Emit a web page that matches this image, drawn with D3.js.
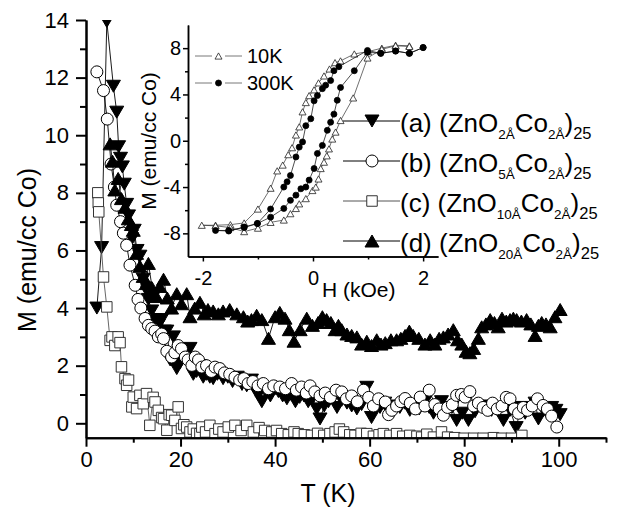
<!DOCTYPE html>
<html><head><meta charset="utf-8">
<script src="https://cdn.jsdelivr.net/npm/d3@7"></script>
<style>
body{margin:0;background:#fff;}
svg text{font-family:"Liberation Sans",Arial,Helvetica,sans-serif;fill:#000;}
</style></head><body>
<svg id="chart" width="618" height="510"></svg>
<script>
// ---- main panel: M(T) for four multilayers ----
const tA = [2.3,3.3,4.4,5.8,6.5,6.9,7.3,7.7,8.1,8.6,9.0,9.7,10.2,10.8,11.4,12.1,12.5,13.2,13.9,14.6,15.3,16.0,16.6,17.1,17.8,18.5,19.2,19.9,20.6,21.3,22.0,22.7,23.4,24.1,24.8,25.5,26.2,26.9,27.8,29.0,30.0,31.0,32.0,33.0,34.0,35.0,35.8,36.5,37.2,38.0,39.0,40.0,40.7,41.6,42.5,43.4,44.3,45.2,46.1,47.0,47.9,48.8,49.5,50.4,51.3,52.2,53.1,54.1,55.2,56.2,57.3,58.3,59.4,60.4,61.3,62.2,63.2,64.3,65.3,66.4,67.4,68.5,69.4,70.5,71.7,72.6,73.5,74.4,75.2,76.3,77.4,78.4,79.6,80.9,82.3,83.7,84.7,85.8,87.1,88.3,89.7,91.0,92.0,92.9,94.0,95.0,95.7,96.8,97.6,98.5,99.4,100.3];
const mA = [4.0,6.1,13.95,11.7,10.8,9.6,9.2,8.9,8.3,7.6,7.2,6.4,6.7,6.0,5.8,5.0,4.7,4.3,3.9,3.6,3.4,3.6,3.2,3.2,2.2,3.0,1.9,2.1,2.5,2.2,2.6,1.7,1.8,2.0,1.6,1.7,1.6,1.55,1.7,1.55,1.6,1.45,1.6,1.35,1.3,1.5,1.15,1.0,0.75,1.1,0.95,1.2,1.1,0.95,0.85,1.0,0.75,0.9,0.95,0.75,0.85,0.5,0.15,0.6,0.75,0.85,0.55,0.8,0.7,0.6,0.5,0.65,1.25,0.2,0.55,0.55,0.7,0.35,0.6,0.55,0.7,0.45,0.6,0.5,0.75,0.55,0.35,0.6,0.75,0.45,0.55,0.1,0.35,0.1,0.4,0.6,0.55,0.45,0.55,0.1,0.45,-0.15,0.55,0.35,0.5,0.7,0.15,0.45,0.35,0.55,0.45,0.3];

const tB = [2.3,3.7,4.5,5.3,6.0,6.5,7.3,7.9,8.6,9.3,10.4,11.0,11.6,12.5,13.2,13.9,14.6,15.3,16.0,16.4,17.1,18.1,18.8,19.5,20.2,21.0,21.6,22.4,23.1,23.8,24.5,25.5,26.5,27.3,28.3,29.3,30.4,31.5,32.5,33.4,34.3,35.3,36.4,37.5,38.6,39.7,41.0,42.2,43.5,44.5,45.6,46.6,47.4,48.4,49.5,50.6,51.7,52.9,54.1,55.1,56.2,57.4,58.7,59.8,60.8,61.9,63.3,64.0,64.7,65.7,66.6,67.5,68.6,69.7,70.7,71.7,72.6,73.8,74.7,75.6,76.5,77.5,78.4,79.4,80.2,81.2,82.0,83.0,84.0,85.0,86.0,87.0,88.0,88.9,89.7,90.6,91.5,92.5,93.4,94.4,95.5,96.7,97.6,98.5,99.6];
const mB = [12.2,11.55,10.56,9.0,8.2,7.57,7.0,6.6,6.18,5.49,4.79,4.3,4.0,3.64,3.4,3.29,3.2,3.0,3.1,2.94,2.5,2.3,2.45,2.7,2.59,2.3,2.2,2.01,2.3,2.2,1.95,2.0,1.8,1.95,1.9,1.75,1.7,1.6,1.5,1.55,1.38,1.45,1.3,1.38,1.2,1.3,1.26,1.2,1.38,1.15,1.26,1.05,1.3,1.09,0.95,1.05,0.9,1.15,1.09,0.85,0.95,0.75,1.15,0.9,0.6,0.85,0.74,0.3,0.45,0.6,0.75,0.86,0.7,0.5,0.91,0.6,1.15,0.65,0.5,0.28,0.55,0.65,0.97,1.0,0.91,1.1,0.6,0.7,0.55,0.45,0.7,0.5,0.6,0.9,0.85,0.5,0.35,0.55,0.45,0.6,0.85,0.62,0.5,0.25,-0.13];

const tC = [2.5,2.6,2.7,3.7,4.4,5.1,5.5,6.1,6.8,7.2,7.5,8.25,8.6,9.0,9.7,10.0,10.7,11.4,12.1,12.8,13.5,14.2,14.6,15.3,16.0,16.4,17.1,17.6,18.1,18.8,19.5,20.2,20.7,21.3,22.0,22.7,23.4,24.1,24.5,25.3,26.2,27.3,28.1,29.0,30.1,31.5,32.8,34.0,35.4,36.6,37.8,39.3,40.3,41.4,42.8,44.0,44.9,46.2,47.7,49.0,50.3,51.6,52.7,53.6,54.5,55.8,56.9,58.2,59.4,60.8,62.0,62.9,64.3,65.7,67.0,68.5,70.0,71.0,72.1,73.5,75.2,76.5,78.0,80.0,82.0,84.0,86.2,88.0,90.0,92.2];
const mC = [8.0,7.65,7.34,5.08,4.04,2.88,3.0,2.7,3.0,2.8,1.96,1.55,1.32,1.5,0.57,0.91,0.51,0.97,0.68,1.03,-0.07,0.9,0.74,0.45,0.2,0.16,-0.24,0.3,0.28,0.1,0.57,-0.18,-0.05,-0.13,-0.3,-0.2,-0.35,-0.36,-0.13,-0.3,-0.07,-0.36,-0.2,-0.3,-0.13,-0.07,-0.25,-0.07,-0.3,-0.15,-0.25,-0.3,-0.25,-0.36,-0.4,-0.3,-0.36,-0.4,-0.42,-0.35,-0.42,-0.36,-0.3,-0.2,-0.3,-0.4,-0.42,-0.35,-0.36,-0.45,-0.4,-0.36,-0.42,-0.36,-0.45,-0.42,-0.45,-0.48,-0.38,-0.48,-0.3,-0.48,-0.5,-0.52,-0.52,-0.52,-0.5,-0.52,-0.52,-0.42];

const tD = [5.1,5.6,6.1,6.8,7.5,8.25,8.95,9.6,10.0,10.7,11.4,12.1,12.8,13.2,14.0,14.9,15.6,16.4,17.2,18.1,19.2,20.2,21.3,22.0,23.0,24.1,25.0,25.8,26.9,28.0,29.0,30.4,31.9,33.3,34.2,35.0,36.1,37.2,38.6,40.0,41.0,42.1,43.0,44.0,45.3,46.7,47.9,49.1,50.0,50.9,51.8,52.7,53.4,54.1,55.2,56.2,57.3,58.3,59.4,60.4,61.5,62.4,63.3,64.5,65.7,66.6,67.5,68.4,69.2,70.4,71.7,72.8,73.8,74.7,75.6,76.6,77.7,78.6,79.5,80.4,81.2,82.0,83.0,83.7,84.6,85.5,86.4,87.2,88.0,88.9,89.7,90.4,91.1,92.1,93.2,94.1,95.0,95.7,96.4,97.3,98.2,99.2,100.3];
const mD = [9.7,9.1,8.1,8.5,7.8,7.5,7.1,6.9,6.7,5.9,5.45,5.1,4.85,5.55,4.7,4.4,4.75,5.0,4.35,4.0,4.5,4.15,4.5,3.7,4.0,4.2,3.8,3.95,3.9,3.8,3.9,3.95,3.8,3.7,3.55,3.6,3.75,3.6,2.95,3.7,3.85,3.65,3.25,2.85,3.25,3.65,3.4,3.5,3.7,3.6,3.5,3.25,3.4,3.25,3.1,3.05,3.0,2.75,2.85,2.7,2.9,2.75,2.8,2.9,2.9,2.95,3.05,3.2,3.05,2.95,2.75,2.9,2.75,2.95,3.0,3.1,3.25,2.9,2.75,2.5,2.45,2.6,2.95,3.35,3.45,3.6,3.5,3.35,3.65,3.55,3.6,3.65,3.6,3.55,3.6,3.45,3.05,3.4,3.5,3.45,3.35,3.7,3.95];

const tTicks = [0,20,40,60,80,100];
const tMinor = [10,30,50,70,90,110];
const mTicks = [0,2,4,6,8,10,12,14];
const mMinor = [1,3,5,7,9,11,13];

const seriesLetters = ["a","b","c","d"];
const znoThickness = ["2Å","5Å","10Å","20Å"];

// ---- inset: M(H) loops ----
const fieldH10 = [1.75,1.5,1.25,1.0,0.75,0.5,0.4,0.3,0.2,0.1,0.02,-0.07,-0.13,-0.19,-0.25,-0.31,-0.38,-0.45,-0.55,-0.65,-0.77,-1.0,-1.25,-1.5,-1.77,-2.02,-1.77,-1.5,-1.25,-1.0,-0.77,-0.53,-0.41,-0.31,-0.25,-0.13,-0.01,0.05,0.1,0.14,0.2,0.25,0.29,0.35,0.41,0.5,0.73,0.99,1.25,1.5,1.75];
const momentM10 = [8.2,8.25,8.0,7.7,7.5,6.9,6.75,6.2,5.6,5.0,4.4,3.9,3.3,2.5,1.2,0.5,-0.6,-1.2,-2.1,-2.6,-4.1,-5.9,-7.1,-7.25,-7.3,-7.3,-7.35,-7.5,-7.85,-7.55,-7.05,-6.85,-6.3,-5.85,-5.45,-5.0,-4.3,-4.0,-3.3,-2.4,-1.85,-1.3,-0.7,0.15,0.75,1.75,3.7,7.15,7.9,8.2,8.15];
const fieldH300 = [2.0,1.75,1.5,1.23,0.99,0.47,0.38,0.32,0.23,0.17,0.08,0.02,-0.04,-0.13,-0.19,-0.25,-0.31,-0.41,-0.47,-0.53,-0.77,-1.01,-1.25,-1.53,-1.77,-1.53,-1.25,-1.01,-0.77,-0.53,-0.41,-0.31,-0.22,-0.13,-0.07,0.02,0.08,0.17,0.26,0.32,0.38,0.44,0.5,0.75,0.99,1.23,1.5,1.75,2.0];
const momentM300 = [8.05,7.55,7.75,7.55,7.8,6.4,6.05,5.2,4.8,4.5,3.9,3.45,1.9,1.3,-0.1,-0.55,-1.4,-3.0,-3.55,-4.0,-5.9,-7.15,-7.45,-7.8,-7.75,-7.75,-7.5,-7.15,-6.6,-5.85,-5.15,-4.7,-4.15,-4.0,-3.4,-2.4,-1.1,-0.4,0.9,1.6,2.3,3.5,4.6,6.05,7.65,7.55,7.75,7.55,8.05];
const hTicks = [-2,0,2];
const hMinor = [-1,1];
const imTicks = [-8,-4,0,4,8];
const imMinor = [-6,-2,2,6];
const insetNames = ["10K","300K"];

const svg = d3.select("#chart");
const plain = d => String(d);   // hyphen-minus, no decimals

// marker shapes
const triDown = (w,h) => `M${-w/2},${-h/2}L${w/2},${-h/2}L0,${h/2}Z`;
const triUp = (w,h) => `M${-w/2},${h/2}L${w/2},${h/2}L0,${-h/2}Z`;
const square = s => `M${-s/2},${-s/2}h${s}v${s}h${-s}Z`;
const circle = r => d3.arc()({innerRadius:0,outerRadius:r,startAngle:0,endAngle:2*Math.PI});

const styles = [
  {path: triDown(14,12), fill:"#000", stroke:"#000", line:"#000"},
  {path: circle(6), fill:"#fff", stroke:"#000", line:"#000"},
  {path: square(10.5), fill:"#fff", stroke:"#333", line:"#555"},
  {path: triUp(14,12), fill:"#000", stroke:"#000", line:"#000"}
];

// ---- main axes ----
const x = d3.scaleLinear().domain([0,110]).range([86,606]);
const y = d3.scaleLinear().domain([-0.5,14]).range([437.7,20]);

svg.append("clipPath").attr("id","plotClip")
  .append("rect").attr("x",86).attr("y",20).attr("width",520).attr("height",417.7);

const series = [[tA,mA],[tB,mB],[tC,mC],[tD,mD]];
const dataG = svg.append("g").attr("clip-path","url(#plotClip)");
const lineGen = d3.line().x(d=>x(d[0])).y(d=>y(d[1]));
series.forEach(([ts,ms],i)=>{
  const pts = ts.map((t,k)=>[t,ms[k]]);
  const g = dataG.append("g");
  g.append("path").attr("d",lineGen(pts)).attr("fill","none")
    .attr("stroke",styles[i].line).attr("stroke-width",0.9);
  g.selectAll("path.mk").data(pts).join("path").attr("class","mk")
    .attr("d",styles[i].path)
    .attr("transform",d=>`translate(${x(d[0])},${y(d[1])})`)
    .attr("fill",styles[i].fill).attr("stroke",styles[i].stroke).attr("stroke-width",1);
});

function styleAxis(g, fs, sw){
  g.attr("font-family",null).attr("font-size",null);
  g.select(".domain").attr("stroke","#000").attr("stroke-width",sw);
  g.selectAll(".tick line").attr("stroke","#000").attr("stroke-width",sw);
  g.selectAll(".tick text").style("font-size",fs+"px");
}

const xAxisG = svg.append("g").attr("transform","translate(0,437.7)")
  .call(d3.axisBottom(x).tickValues(tTicks).tickFormat(plain).tickSize(9).tickSizeOuter(0).tickPadding(5));
styleAxis(xAxisG,22,2);
const xMinG = svg.append("g").attr("transform","translate(0,437.7)")
  .call(d3.axisBottom(x).tickValues(tMinor).tickSize(5).tickSizeOuter(0).tickFormat(""));
styleAxis(xMinG,22,2);

const yAxisG = svg.append("g").attr("transform","translate(86,0)")
  .call(d3.axisLeft(y).tickValues(mTicks).tickFormat(plain).tickSize(10).tickSizeOuter(0).tickPadding(7));
styleAxis(yAxisG,22,2);
const yMinG = svg.append("g").attr("transform","translate(86,0)")
  .call(d3.axisLeft(y).tickValues(mMinor).tickSize(6).tickSizeOuter(0).tickFormat(""));
styleAxis(yMinG,22,2);

svg.append("text").attr("x",328).attr("y",502).attr("text-anchor","middle")
  .style("font-size","25px").text("T (K)");
svg.append("text").attr("transform","translate(36,250) rotate(-90)").attr("text-anchor","middle")
  .style("font-size","25px").text("M (emu/cc Co)");

// ---- inset ----
const hx = d3.scaleLinear().domain([-2.27,2.27]).range([188,438]);
const hy = d3.scaleLinear().domain([-10,10]).range([256.5,25]);

const hxG = svg.append("g").attr("transform","translate(0,256.5)")
  .call(d3.axisBottom(hx).tickValues(hTicks).tickFormat(plain).tickSize(5).tickSizeOuter(0).tickPadding(9));
styleAxis(hxG,20,1.5);
const hxMin = svg.append("g").attr("transform","translate(0,256.5)")
  .call(d3.axisBottom(hx).tickValues(hMinor).tickSize(3).tickSizeOuter(0).tickFormat(""));
styleAxis(hxMin,20,1.5);
const hyG = svg.append("g").attr("transform","translate(188,0)")
  .call(d3.axisLeft(hy).tickValues(imTicks).tickFormat(plain).tickSize(5).tickSizeOuter(0).tickPadding(2));
styleAxis(hyG,20,1.5);
const hyMin = svg.append("g").attr("transform","translate(188,0)")
  .call(d3.axisLeft(hy).tickValues(imMinor).tickSize(3).tickSizeOuter(0).tickFormat(""));
styleAxis(hyMin,20,1.5);

svg.append("text").attr("x",322).attr("y",297).style("font-size","21px").text("H (kOe)");
svg.append("text").attr("transform","translate(156,141) rotate(-90)").attr("text-anchor","middle")
  .style("font-size","21px").text("M (emu/cc Co)");

const loops = [[fieldH10,momentM10],[fieldH300,momentM300]];
const loopStyles = [
  {path: triUp(7,6.2), fill:"#fff", stroke:"#222", line:"#333"},
  {path: circle(3), fill:"#000", stroke:"#000", line:"#000"}
];
const hLine = d3.line().x(d=>hx(d[0])).y(d=>hy(d[1]));
loops.forEach(([hs,ms],i)=>{
  const pts = hs.map((h,k)=>[h,ms[k]]);
  const g = svg.append("g");
  g.append("path").attr("d",hLine(pts)).attr("fill","none")
    .attr("stroke",loopStyles[i].line).attr("stroke-width",0.7);
  g.selectAll("path.mk").data(pts).join("path").attr("class","mk")
    .attr("d",loopStyles[i].path)
    .attr("transform",d=>`translate(${hx(d[0])},${hy(d[1])})`)
    .attr("fill",loopStyles[i].fill).attr("stroke",loopStyles[i].stroke).attr("stroke-width",0.8);
});

// inset legend
insetNames.forEach((name,i)=>{
  const cy = 56 + i*27;
  const g = svg.append("g");
  g.append("line").attr("x1",195).attr("x2",212).attr("y1",cy).attr("y2",cy).attr("stroke","#555").attr("stroke-width",0.8);
  g.append("line").attr("x1",225).attr("x2",242).attr("y1",cy).attr("y2",cy).attr("stroke","#555").attr("stroke-width",0.8);
  g.append("path").attr("d",loopStyles[i].path).attr("transform",`translate(218.5,${cy})`)
    .attr("fill",loopStyles[i].fill).attr("stroke",loopStyles[i].stroke).attr("stroke-width",0.8);
  g.append("text").attr("x",247).attr("y",cy+7).style("font-size","20px").text(name);
});

// main legend
seriesLetters.forEach((letter,i)=>{
  const cy = 121 + i*40;
  const g = svg.append("g");
  g.append("line").attr("x1",343).attr("x2",400).attr("y1",cy).attr("y2",cy)
    .attr("stroke",styles[i].line).attr("stroke-width",1);
  g.append("path").attr("d",styles[i].path).attr("transform",`translate(372,${cy})`)
    .attr("fill",styles[i].fill).attr("stroke",styles[i].stroke).attr("stroke-width",1);
  const t = g.append("text").attr("x",400).attr("y",cy+11).style("font-size","26px");
  t.append("tspan").text(`(${letter}) (ZnO`);
  t.append("tspan").attr("dy",7).style("font-size","13.5px").text(znoThickness[i]);
  t.append("tspan").attr("dy",-7).text("Co");
  t.append("tspan").attr("dy",7).style("font-size","13.5px").text("2Å");
  t.append("tspan").attr("dy",-7).text(")");
  t.append("tspan").attr("dy",7).style("font-size","16.5px").text("25");
});
</script>
</body></html>
